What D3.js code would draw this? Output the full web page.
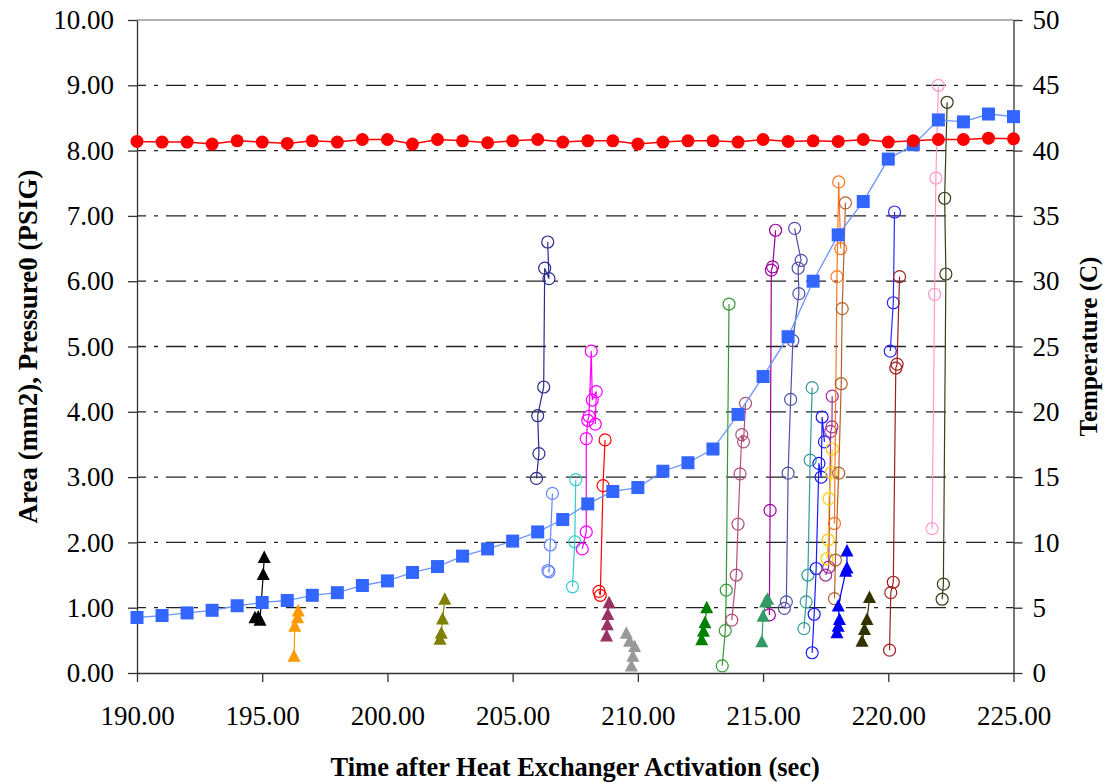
<!DOCTYPE html>
<html><head><meta charset="utf-8">
<script src="https://cdn.jsdelivr.net/npm/d3@7"></script>
<style>body{margin:0;background:#fff}svg{display:block}</style>
</head><body>
<svg id="chart" width="1107" height="782"></svg>
<script>
// ---------- data ----------
const timeSec = [190,191,192,193,194,195,196,197,198,199,200,201,202,203,204,205,206,207,208,209,210,211,212,213,214,215,216,217,218,219,220,221,222,223,224,225];
const areaMM2 = [0.85,0.88,0.92,0.96,1.03,1.08,1.11,1.19,1.23,1.34,1.41,1.54,1.63,1.79,1.90,2.02,2.16,2.35,2.59,2.78,2.84,3.09,3.22,3.43,3.96,4.54,5.15,6.00,6.71,7.22,7.87,8.09,8.47,8.44,8.56,8.52];
const pressurePSIG = [8.14,8.13,8.13,8.10,8.15,8.13,8.11,8.15,8.13,8.17,8.17,8.10,8.17,8.15,8.12,8.15,8.17,8.13,8.15,8.15,8.10,8.13,8.15,8.15,8.13,8.17,8.14,8.15,8.14,8.17,8.13,8.15,8.17,8.17,8.19,8.18];

const xTicks = [190,195,200,205,210,215,220,225];
const yLeftTicks = [0,1,2,3,4,5,6,7,8,9,10];
const yRightTicks = [0,5,10,15,20,25,30,35,40,45,50];

// open-circle traces [time, value]
const cNavy = [[205.95,2.98],[206.05,3.36],[206.0,3.94],[206.24,4.38],[206.28,6.20],[206.45,6.04],[206.4,6.60]];
const cCornflower = [[206.41,1.57],[206.45,1.55],[206.5,1.96],[206.59,2.75]];
const cCyan = [[207.39,1.32],[207.48,2.01],[207.52,2.96]];
const cMagenta = [[207.78,1.90],[207.94,2.16],[207.94,3.59],[208.0,3.87],[208.05,3.93],[208.14,4.93],[208.18,4.18],[208.34,4.31],[208.3,3.81]];
const cRed = [[208.45,1.25],[208.5,1.19],[208.61,2.87],[208.69,3.57]];
const cGreen = [[213.37,0.11],[213.49,0.65],[213.53,1.27],[213.64,5.65]];
const cMauve = [[213.75,0.81],[213.93,1.50],[214.0,2.28],[214.08,3.05],[214.15,3.65],[214.22,3.54],[214.3,4.13]];
const cPurple = [[215.25,0.89],[215.28,2.49],[215.33,6.17],[215.38,6.22],[215.5,6.78]];
const cSlate = [[215.85,0.99],[215.93,1.09],[216.0,3.06],[216.1,4.19],[216.19,5.09],[216.43,5.81],[216.4,6.20],[216.52,6.32],[216.26,6.81]];
const cTeal = [[216.63,0.68],[216.72,1.09],[216.79,1.50],[216.88,3.26],[216.96,4.37]];
const cBlue = [[216.96,0.31],[217.04,0.90],[217.12,1.60],[217.23,3.21],[217.32,3.00],[217.36,3.92],[217.45,3.54]];
const cPurple2 = [[217.5,1.50],[217.62,1.62],[217.7,3.70],[217.75,3.77],[217.76,4.24]];
const cGold = [[217.55,1.75],[217.6,2.04],[217.63,2.67],[217.73,3.07],[217.76,3.43]];
const cOrange = [[217.85,2.29],[217.95,6.07],[218.02,7.52],[218.1,6.50]];
const cBrown = [[217.85,1.14],[217.89,1.73],[218.02,3.06],[218.12,4.43],[218.16,5.58],[218.29,7.20]];
const cBlue2 = [[220.08,4.93],[220.2,5.67],[220.25,7.06]];
const cMaroon = [[220.05,0.35],[220.1,1.23],[220.2,1.39],[220.3,4.67],[220.35,4.73],[220.45,6.07]];
const cPink = [[221.75,2.21],[221.85,5.80],[221.9,7.58],[222.0,9.00]];
const cDarkOlive = [[222.15,1.13],[222.2,1.36],[222.3,6.11],[222.25,7.27],[222.35,8.74]];

// filled-triangle traces [time, value]
const tBlack = [[194.71,0.84],[194.84,0.85],[194.91,0.80],[195.04,1.50],[195.08,1.76]];
const tOrange = [[196.27,0.25],[196.3,0.71],[196.41,0.84],[196.44,0.94]];
const tOlive = [[202.1,0.51],[202.15,0.60],[202.2,0.82],[202.29,1.12]];
const tPlum = [[208.75,0.56],[208.78,0.73],[208.8,0.89],[208.85,1.07]];
const tGray = [[209.54,0.60],[209.67,0.48],[209.87,0.40],[209.8,0.25],[209.74,0.10]];
const tGreen = [[212.55,0.50],[212.62,0.63],[212.68,0.76],[212.75,0.99]];
const tSeaGreen = [[214.95,0.47],[215.0,0.86],[215.1,1.08],[215.18,1.12]];
const tBlue = [[217.95,0.61],[218.0,0.71],[218.05,0.81],[218.0,1.02],[218.3,1.55],[218.35,1.60],[218.35,1.86]];
const tDarkOlive = [[218.95,0.48],[219.05,0.66],[219.15,0.81],[219.25,1.15]];

// ---------- styling tables ----------
const circleTraces = [
  [cNavy,'#2B2B8C'],[cCornflower,'#6688FF'],[cCyan,'#33CCCC'],[cMagenta,'#FF00FF'],[cRed,'#FF0000'],
  [cGreen,'#339933'],[cMauve,'#B0507A'],[cPurple,'#990099'],[cSlate,'#5050A8'],[cTeal,'#339999'],
  [cBlue,'#1A1AFF'],[cPurple2,'#993399'],[cGold,'#FFCC00'],[cOrange,'#FF7722'],[cBrown,'#B5602F'],
  [cBlue2,'#2A2AFF'],[cMaroon,'#A02020'],[cPink,'#FF99CC'],[cDarkOlive,'#3D3D1A']
];
const triTraces = [
  [tBlack,'#000000'],[tOrange,'#FF9900'],[tOlive,'#808000'],[tPlum,'#993366'],[tGray,'#999999'],
  [tGreen,'#008000'],[tSeaGreen,'#339966'],[tBlue,'#0000FF'],[tDarkOlive,'#333300']
];

// ---------- chart ----------
const svg = d3.select('#chart');
const L = 137, R = 1013.5, T = 20, B = 673;
const x = d3.scaleLinear().domain([190,225]).range([L,R]);
const y = d3.scaleLinear().domain([0,10]).range([B,T]);
const yR = d3.scaleLinear().domain([0,50]).range([B,T]);
const font = "'Liberation Serif','Times New Roman',serif";

// gridlines
svg.append('g').selectAll('line').data(yLeftTicks.filter(v => v > 0 && v < 10)).join('line')
  .attr('x1', L).attr('x2', R).attr('y1', d => y(d)).attr('y2', d => y(d))
  .attr('stroke', '#222').attr('stroke-width', 1.3)
  .attr('stroke-dasharray', '20,8,4,8').attr('stroke-dashoffset', 11);
svg.append('line').attr('x1', L).attr('x2', R).attr('y1', y(10)).attr('y2', y(10))
  .attr('stroke', '#999').attr('stroke-width', 1.3);

// axes
const axL = d3.axisLeft(y).tickValues(yLeftTicks).tickFormat(d3.format('.2f')).tickSize(9).tickPadding(14);
const axR = d3.axisRight(yR).tickValues(yRightTicks).tickFormat(d3.format('d')).tickSize(9).tickPadding(10);
const axB = d3.axisBottom(x).tickValues(xTicks).tickFormat(d3.format('.2f')).tickSize(9).tickPadding(24);
function style(g){
  g.select('.domain').attr('stroke','#333').attr('stroke-width',1.3);
  g.selectAll('.tick line').attr('stroke','#333').attr('stroke-width',1.3);
  g.selectAll('.tick text').attr('font-family',font).attr('font-size',27).attr('fill','#000');
}
svg.append('g').attr('transform',`translate(${L},0)`).call(axL.tickSizeOuter(0)).call(style);
svg.append('g').attr('transform',`translate(${R},0)`).call(axR.tickSizeOuter(0)).call(style);
svg.append('g').attr('transform',`translate(0,${B})`).call(axB.tickSizeOuter(0)).call(style);

// line generator
const line = d3.line().x(d => x(d[0])).y(d => y(d[1]));

// circle traces
circleTraces.forEach(([pts,col]) => {
  const g = svg.append('g');
  g.append('path').attr('d', line(pts)).attr('fill','none').attr('stroke',col).attr('stroke-width',1.2);
  g.selectAll('circle').data(pts).join('circle')
    .attr('cx', d => x(d[0])).attr('cy', d => y(d[1])).attr('r', 6)
    .attr('fill','none').attr('stroke',col).attr('stroke-width',1.2);
});

// triangle traces
const tri = 'M0,-7.5L6.5,5L-6.5,5Z';
triTraces.forEach(([pts,col]) => {
  const g = svg.append('g');
  g.append('path').attr('d', line(pts)).attr('fill','none').attr('stroke',col).attr('stroke-width',1.2);
  g.selectAll('path.m').data(pts).join('path').attr('class','m')
    .attr('transform', d => `translate(${x(d[0])},${y(d[1])})`).attr('d', tri).attr('fill',col);
});

// area (blue squares)
const areaPts = timeSec.map((t,i) => [t, areaMM2[i]]);
svg.append('path').attr('d', line(areaPts)).attr('fill','none').attr('stroke','#6A96FF').attr('stroke-width',1.3);
svg.append('g').selectAll('rect').data(areaPts).join('rect')
  .attr('x', d => x(d[0]) - 6.5).attr('y', d => y(d[1]) - 6.5).attr('width',13).attr('height',13)
  .attr('fill','#3366FF');

// pressure (red dots)
const presPts = timeSec.map((t,i) => [t, pressurePSIG[i]]);
svg.append('path').attr('d', line(presPts)).attr('fill','none').attr('stroke','#FF0000').attr('stroke-width',1.5);
svg.append('g').selectAll('circle').data(presPts).join('circle')
  .attr('cx', d => x(d[0])).attr('cy', d => y(d[1])).attr('r',6.5).attr('fill','#FF0000');

// titles
svg.append('text').attr('x', (L+R)/2).attr('y', 776).attr('text-anchor','middle')
  .attr('font-family',font).attr('font-weight','bold').attr('font-size',26.5)
  .text('Time after Heat Exchanger Activation (sec)');
svg.append('text').attr('transform',`translate(37,${(T+B)/2}) rotate(-90)`).attr('text-anchor','middle')
  .attr('font-family',font).attr('font-weight','bold').attr('font-size',27)
  .text('Area (mm2), Pressure0 (PSIG)');
svg.append('text').attr('transform',`translate(1097,${(T+B)/2}) rotate(-90)`).attr('text-anchor','middle')
  .attr('font-family',font).attr('font-weight','bold').attr('font-size',25)
  .text('Temperature (C)');
</script>
</body></html>
